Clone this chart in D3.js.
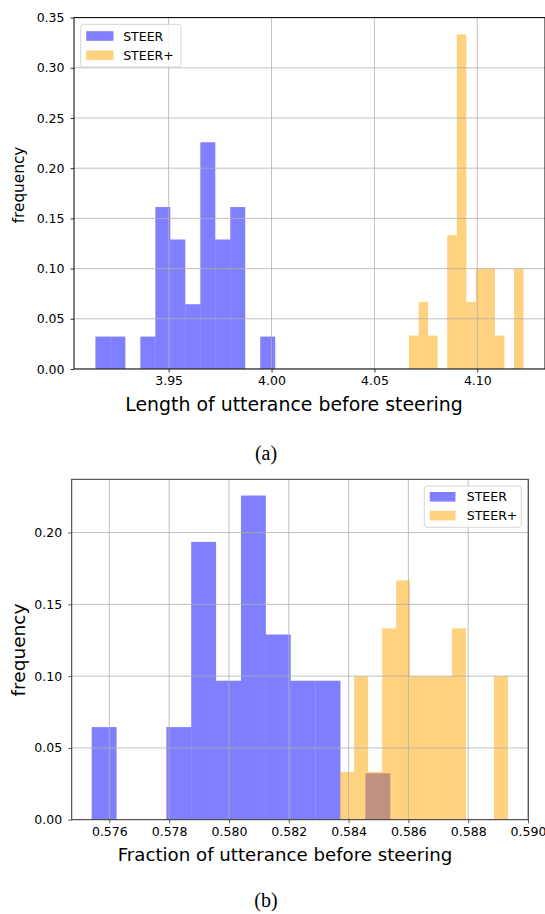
<!DOCTYPE html>
<html>
<head>
<meta charset="utf-8">
<script src="https://cdn.jsdelivr.net/npm/d3@7"></script>
<style>
  body { margin: 0; background: #fff; }
  text { font-family: "DejaVu Sans", sans-serif; fill: #000; }
</style>
</head>
<body>
<div id="chart"></div>
<script>
// (a) length of utterance before steering, 12 bins per series
const lenSteerRange = [3.9144, 4.0018]
const lenSteerFreq = [0.0323, 0.0323, 0, 0.0323, 0.1613, 0.1290, 0.0645, 0.2258, 0.1290, 0.1613, 0, 0.0323]
const lenPlusRange = [4.0668, 4.1225]
const lenPlusFreq = [0.0333, 0.0667, 0.0333, 0, 0.1333, 0.3333, 0.0667, 0.1, 0.1, 0.0333, 0, 0.1]
const lenXTicks = [3.95, 4.00, 4.05, 4.10]
const lenYTicks = [0, 0.05, 0.10, 0.15, 0.20, 0.25, 0.30, 0.35]

// (b) fraction of utterance before steering
const fracSteerRange = [0.57541, 0.585395]
const fracSteerFreq = [0.0645, 0, 0, 0.0645, 0.1935, 0.0968, 0.2258, 0.1290, 0.0968, 0.0968, 0, 0.0323]
const fracPlusRange = [0.583721, 0.589328]
const fracPlusFreq = [0.0333, 0.1, 0.0333, 0.1333, 0.1667, 0.1, 0.1, 0.1, 0.1333, 0, 0, 0.1]
const fracXTicks = [0.576, 0.578, 0.580, 0.582, 0.584, 0.586, 0.588, 0.590]
const fracYTicks = [0, 0.05, 0.10, 0.15, 0.20]

const seriesNames = ["STEER", "STEER+"]
const seriesColors = ["#0000ff", "#ffa500"]

const svg = d3.select('#chart')
    .append("svg")
    .attr("width", 545)
    .attr("height", 914)
    .style("background", "#FFF")

function toBins(range, freq) {
    const w = (range[1] - range[0]) / freq.length
    return freq.map((f, i) => ({ x0: range[0] + i * w, x1: range[0] + (i + 1) * w, f: f }))
}

function drawHist(cfg) {
    const x = d3.scaleLinear().domain(cfg.xDomain).range([cfg.left, cfg.right])
    const y = d3.scaleLinear().domain(cfg.yDomain).range([cfg.bottom, cfg.top])
    const g = svg.append("g")

    const clipId = "clip" + cfg.id
    g.append("clipPath").attr("id", clipId)
        .append("rect")
        .attr("x", cfg.left).attr("y", cfg.top)
        .attr("width", cfg.right - cfg.left).attr("height", cfg.bottom - cfg.top)

    const plot = g.append("g").attr("clip-path", "url(#" + clipId + ")")

    cfg.series.forEach((s, si) => {
        plot.append("g")
            .selectAll("rect")
            .data(toBins(s.range, s.freq))
            .enter()
            .append("rect")
            .attr("x", d => x(d.x0))
            .attr("width", d => x(d.x1) - x(d.x0))
            .attr("y", d => y(d.f))
            .attr("height", d => y(0) - y(d.f))
            .attr("fill", seriesColors[si])
            .attr("fill-opacity", 0.5)
    })

    // grid sits above the bars, as in matplotlib
    plot.append("g")
        .selectAll("line")
        .data(cfg.xTicks)
        .enter()
        .append("line")
        .attr("x1", d => x(d)).attr("x2", d => x(d))
        .attr("y1", cfg.top).attr("y2", cfg.bottom)
        .attr("stroke", "#b0b0b0").attr("stroke-width", 0.8)
    plot.append("g")
        .selectAll("line")
        .data(cfg.yTicks)
        .enter()
        .append("line")
        .attr("x1", cfg.left).attr("x2", cfg.right)
        .attr("y1", d => y(d)).attr("y2", d => y(d))
        .attr("stroke", "#b0b0b0").attr("stroke-width", 0.8)

    // axes
    const xAxis = d3.axisBottom(x).tickValues(cfg.xTicks).tickSize(3.5).tickPadding(4)
        .tickFormat(d3.format(cfg.xFormat))
    const yAxis = d3.axisLeft(y).tickValues(cfg.yTicks).tickSize(3.5).tickPadding(6)
        .tickFormat(d3.format(".2f"))
    const gx = g.append("g").attr("transform", "translate(0," + cfg.bottom + ")").call(xAxis)
    const gy = g.append("g").attr("transform", "translate(" + cfg.left + ",0)").call(yAxis)
    ;[gx, gy].forEach(a => {
        a.select(".domain").remove()
        a.selectAll("line").attr("stroke", cfg.frame).attr("stroke-width", 0.8)
        a.selectAll("text").style("font-family", "DejaVu Sans").style("font-size", "12.5px").attr("fill", "#000")
    })

    g.append("rect")
        .attr("x", cfg.left).attr("y", cfg.top)
        .attr("width", cfg.right - cfg.left).attr("height", cfg.bottom - cfg.top)
        .attr("fill", "none").attr("stroke", cfg.frame).attr("stroke-width", 1)

    g.append("text")
        .attr("x", cfg.xLabelX).attr("y", cfg.xLabelY)
        .attr("text-anchor", "middle")
        .style("font-size", cfg.xLabelSize + "px")
        .text(cfg.xLabel)
    g.append("text")
        .attr("transform", "translate(" + cfg.yLabelX + "," + cfg.yLabelY + ") rotate(-90)")
        .attr("text-anchor", "middle")
        .style("font-size", cfg.yLabelSize + "px")
        .text("frequency")

    // legend
    const L = cfg.legend
    const lg = g.append("g")
    lg.append("rect")
        .attr("x", L.x).attr("y", L.y).attr("width", L.w).attr("height", L.h)
        .attr("rx", 3).attr("fill", "#fff").attr("fill-opacity", 0.8)
        .attr("stroke", "#d6d6d6").attr("stroke-width", 1)
    seriesNames.forEach((name, i) => {
        const cy = L.y + L.pad + i * L.step
        lg.append("rect")
            .attr("x", L.x + 5.5).attr("y", cy - 4.8)
            .attr("width", L.pw).attr("height", 9.6)
            .attr("fill", seriesColors[i]).attr("fill-opacity", 0.5)
        lg.append("text")
            .attr("x", L.x + 42.5).attr("y", cy)
            .attr("dy", "0.36em")
            .style("font-size", "12.5px")
            .text(name)
    })

    svg.append("text")
        .attr("x", 266).attr("y", cfg.captionY)
        .attr("text-anchor", "middle")
        .style("font-family", "'Liberation Serif', serif")
        .style("font-size", "20px")
        .text(cfg.caption)
}

drawHist({
    id: "a",
    left: 74, right: 545, top: 17.6, bottom: 369,
    xDomain: [3.9040, 4.1329], yDomain: [0, 0.35],
    xTicks: lenXTicks, yTicks: lenYTicks, xFormat: ".2f",
    series: [{ range: lenSteerRange, freq: lenSteerFreq }, { range: lenPlusRange, freq: lenPlusFreq }],
    frame: "#000",
    xLabel: "Length of utterance before steering", xLabelX: 294, xLabelY: 411, xLabelSize: 18.9,
    yLabelX: 23.5, yLabelY: 185, yLabelSize: 15.3,
    legend: { x: 80.7, y: 24.3, w: 100.3, h: 42.7, pad: 11.7, step: 19.3, pw: 27.3 },
    caption: "(a)", captionY: 460
})

drawHist({
    id: "b",
    left: 71.7, right: 528.3, top: 479.3, bottom: 819.7,
    xDomain: [0.574742, 0.590010], yDomain: [0, 0.2371],
    xTicks: fracXTicks, yTicks: fracYTicks, xFormat: ".3f",
    series: [{ range: fracSteerRange, freq: fracSteerFreq }, { range: fracPlusRange, freq: fracPlusFreq }],
    frame: "#333",
    xLabel: "Fraction of utterance before steering", xLabelX: 285, xLabelY: 860.6, xLabelSize: 18.2,
    yLabelX: 25, yLabelY: 650, yLabelSize: 18.5,
    legend: { x: 424.3, y: 486, w: 97, h: 41.3, pad: 10.8, step: 18.8, pw: 25.7 },
    caption: "(b)", captionY: 907
})
</script>
</body>
</html>
